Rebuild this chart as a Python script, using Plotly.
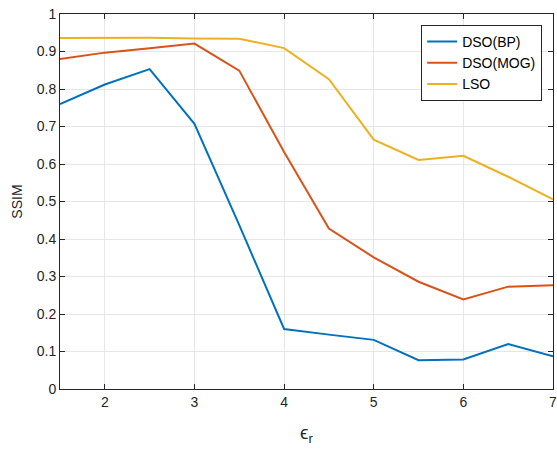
import plotly.graph_objects as go

eps_r = [1.5, 2, 2.5, 3, 3.5, 4, 4.5, 5, 5.5, 6, 6.5, 7]
dso_bp = [0.760, 0.812, 0.853, 0.707, 0.437, 0.160, 0.145, 0.131, 0.077, 0.079, 0.120, 0.087]
dso_mog = [0.880, 0.897, 0.909, 0.921, 0.849, 0.632, 0.428, 0.351, 0.286, 0.239, 0.273, 0.277]
lso = [0.936, 0.937, 0.937, 0.935, 0.934, 0.909, 0.826, 0.665, 0.611, 0.622, 0.566, 0.506]

series = [("DSO(BP)", dso_bp, "#0072BD"),
          ("DSO(MOG)", dso_mog, "#D95319"),
          ("LSO", lso, "#EDB120")]

fig = go.Figure()
for name, vals, col in series:
    fig.add_trace(go.Scatter(x=eps_r, y=vals, mode="lines", name=name,
                             line=dict(color=col, width=2)))

axis_common = dict(showline=True, mirror="ticks", linecolor="#262626", linewidth=1,
                   ticks="inside", ticklen=5, tickcolor="#262626",
                   showgrid=True, gridcolor="#E6E6E6", gridwidth=1, zeroline=False,
                   ticklabeloverflow="allow", automargin=False,
                   tickfont=dict(family="Liberation Sans, Arial, sans-serif", size=14, color="#262626"))

fig.update_layout(
    width=557, height=452,
    margin=dict(l=60, r=4, t=14, b=63),
    plot_bgcolor="white", paper_bgcolor="white",
    font=dict(family="Liberation Sans, Arial, sans-serif", color="#262626"),
    xaxis=dict(range=[1.5, 7], tickvals=[2, 3, 4, 5, 6, 7],
               title=dict(text="ϵ<sub>r</sub>", font=dict(size=19, color="#262626"), standoff=16),
               **axis_common),
    yaxis=dict(range=[0, 1], dtick=0.1, tickformat="~g",
               title=dict(text="SSIM", font=dict(size=14, color="#262626"), standoff=10),
               **axis_common),
    legend=dict(x=0.978, y=0.971, xanchor="right", yanchor="top",
                bordercolor="#262626", borderwidth=1, bgcolor="white",
                font=dict(size=14, color="#000000"), tracegroupgap=0),
    showlegend=True,
)

fig.write_html("out.html")
